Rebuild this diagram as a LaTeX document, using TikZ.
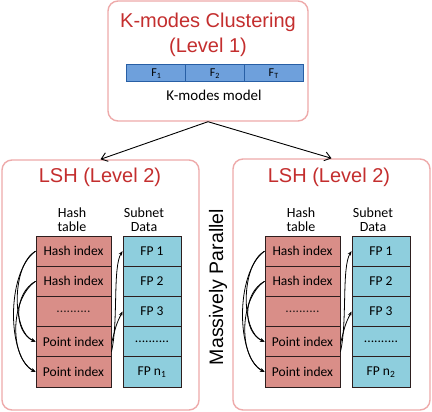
\documentclass[tikz,border=0pt]{standalone}
\usepackage{fontspec}
\setmainfont{Carlito}
\newfontfamily\arialf{Liberation Sans}
\usetikzlibrary{arrows.meta}
\definecolor{boxpink}{RGB}{238,170,170}
\definecolor{titlered}{RGB}{196,46,46}
\definecolor{hashfill}{RGB}{217,142,136}
\definecolor{subfill}{RGB}{142,206,221}
\definecolor{barfill}{RGB}{110,160,220}
\definecolor{barline}{RGB}{40,95,165}
\definecolor{celline}{RGB}{45,30,30}
\tikzset{
  panel/.style={draw=boxpink, line width=1.4pt, rounded corners=10pt, fill=white},
  titletext/.style={font=\arialf\fontsize{20}{24}\selectfont, text=titlered, align=center},
  hashcell/.style={draw=celline, line width=0.9pt, fill=hashfill, minimum width=75pt, minimum height=30.2pt, inner sep=0pt, font=\fontsize{13.5}{15}\selectfont},
  subcell/.style={draw=celline, line width=0.9pt, fill=subfill, minimum width=58pt, minimum height=30.2pt, inner sep=0pt, font=\fontsize{13.5}{15}\selectfont},
  barcell/.style={draw=barline, line width=1pt, fill=barfill, minimum width=58.7pt, minimum height=17pt, inner sep=0pt, font=\fontsize{12}{14}\selectfont},
  collabel/.style={font=\fontsize{14}{14}\selectfont, align=center, inner sep=0pt},
  bigarrow/.style={-{Straight Barb[length=6pt,width=9pt]}, line width=0.9pt},
  smallarrow/.style={-{Stealth[length=4.5pt,width=3.5pt]}, line width=0.8pt}
}
\begin{document}
\begin{tikzpicture}[x=1pt,y=-1pt]
\useasboundingbox (0,0) rectangle (432,412);
% top box
\node[panel, minimum width=200pt, minimum height=120pt, inner sep=0pt] (top) at (208,61) {};
\node[titletext] (t1) at (208,22) {K-modes Clustering};
\node[titletext] (t2) at (208,47) {(Level 1)};
\node[barcell] (f1) at (156.3,73.5) {F\textsubscript{1}};
\node[barcell] (f2) at (215,73.5) {F\textsubscript{2}};
\node[barcell] (f3) at (273.7,73.5) {F\textsubscript{T}};
\node[font=\fontsize{15}{16}\selectfont, inner sep=0pt] (km) at (214,95) {K-modes model};
% panels
\node[panel, minimum width=197pt, minimum height=250pt, inner sep=0pt] (lb) at (100.5,285) {};
\node[panel, minimum width=197pt, minimum height=251pt, inner sep=0pt] (rb) at (331.5,284.5) {};
\draw[bigarrow] (top.south) -- (lb.north);
\draw[bigarrow] (top.south) -- (rb.north);
\node[rotate=90, font=\arialf\fontsize{19.5}{20}\selectfont] (mp) at (218,287) {Massively Parallel};
\foreach \p/\dx/\n in {L/0/1, R/229/2}{
  \node[titletext] (title\p) at (100+\dx,177) {LSH (Level 2)};
  \node[collabel] (hl\p) at (72+\dx,220) {Hash\\table};
  \node[collabel] (sl\p) at (144+\dx,220) {Subnet\\Data};
  \node[hashcell] (h\p1) at (73.5+\dx,251.1) {Hash index};
  \node[hashcell] (h\p2) at (73.5+\dx,281.3) {Hash index};
  \node[hashcell] (h\p3) at (73.5+\dx,311.5) {\textcolor{celline}{..........}};
  \node[hashcell] (h\p4) at (73.5+\dx,341.7) {Point index};
  \node[hashcell] (h\p5) at (73.5+\dx,371.9) {Point index};
  \node[subcell] (s\p1) at (152+\dx,251.1) {FP 1};
  \node[subcell] (s\p2) at (152+\dx,281.3) {FP 2};
  \node[subcell] (s\p3) at (152+\dx,311.5) {FP 3};
  \node[subcell] (s\p4) at (152+\dx,341.7) {..........};
  \node[subcell] (s\p5) at (152+\dx,371.9) {FP n\textsubscript{\n}};
  % left curves
  \draw[smallarrow] (h\p1.west) .. controls +(-24,14) and +(-24,-10) .. (h\p4.west);
  \draw[smallarrow] (h\p1.west) .. controls +(-30,22) and +(-28,-14) .. (h\p5.west);
  \draw[smallarrow] (h\p2.west) .. controls +(-22,12) and +(-22,-10) .. (h\p4.west);
  \draw[smallarrow] (h\p2.west) .. controls +(-26,18) and +(-26,-14) .. (h\p5.west);
  % right curves
  \draw[smallarrow] ([yshift=-10pt]h\p4.east) .. controls +(7,-30) and +(-10,16) .. (s\p1.west);
  \draw[smallarrow] ([yshift=-2pt]h\p4.east) .. controls +(5,-20) and +(-6,12) .. (s\p3.west);
}
\end{tikzpicture}
\end{document}
